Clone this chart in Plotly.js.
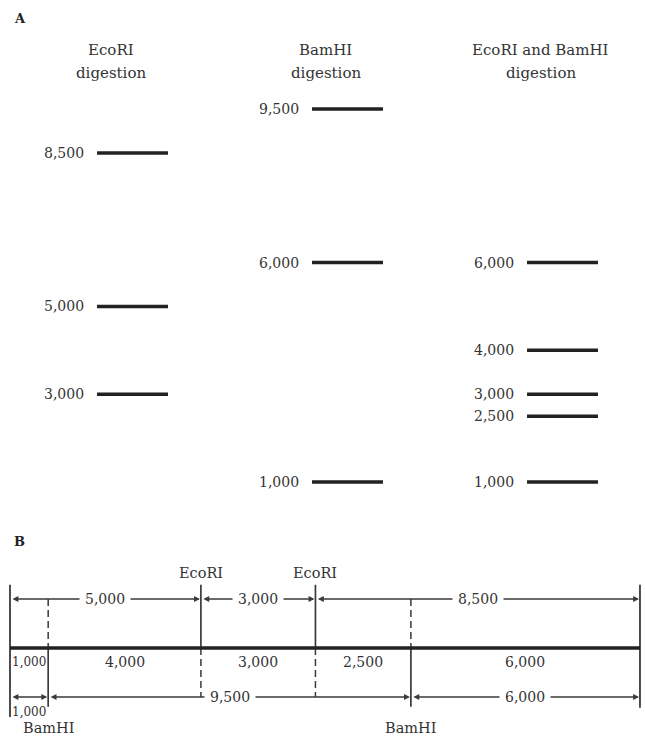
<!DOCTYPE html>
<html>
<head>
<meta charset="utf-8">
<script src="https://cdn.plot.ly/plotly-3.0.1.min.js"></script>
<style>html,body{margin:0;padding:0;background:#fff;}#chart{width:645px;height:737px;}</style>
</head>
<body>
<div id="chart"></div>
<script>
// ---- Data ----
const laneNames = ['EcoRI', 'BamHI', 'EcoRI and BamHI'];
const laneSub = ['digestion', 'digestion', 'digestion'];
const ecoriBands = [8500, 5000, 3000];
const bamhiBands = [9500, 6000, 1000];
const doubleBands = [6000, 4000, 3000, 2500, 1000];
const ecoriFragments = [5000, 3000, 8500];   // order along map
const bamhiFragments = [1000, 9500, 6000];   // order along map
const doubleFragments = [1000, 4000, 3000, 2500, 6000];
const ecoriSiteLabel = 'EcoRI';
const bamhiSiteLabel = 'BamHI';

// ---- Helpers ----
const fmt = v => v.toLocaleString('en-US');
const cum = arr => { const out = [0]; arr.forEach(a => out.push(out[out.length - 1] + a)); return out; };
const FONT = 'DejaVu Serif, Liberation Serif, serif';
const TXT = '#333';
const traces = [];
const ann = [];

// ---- Panel A: gel bands ----
const laneBands = [ecoriBands, bamhiBands, doubleBands];
const hw = 0.165;
laneBands.forEach((bands, i) => {
  const xs = [], ys = [];
  bands.forEach(v => { xs.push(i - hw, i + hw, null); ys.push(v, v, null); });
  traces.push({x: xs, y: ys, xaxis: 'x', yaxis: 'y', mode: 'lines',
    line: {color: '#222', width: 3.5}, hoverinfo: 'skip', showlegend: false});
  bands.forEach(v => ann.push({x: i - hw, y: v, xref: 'x', yref: 'y', text: fmt(v),
    showarrow: false, xanchor: 'right', yanchor: 'middle', xshift: -11,
    font: {family: FONT, size: 14, color: TXT}}));
  ann.push({x: i, y: 1 - 50 / 737, xref: 'x', yref: 'paper', text: laneNames[i], showarrow: false,
    xanchor: 'center', yanchor: 'middle', xshift: -22, font: {family: FONT, size: 15, color: TXT}});
  ann.push({x: i, y: 1 - 73 / 737, xref: 'x', yref: 'paper', text: laneSub[i], showarrow: false,
    xanchor: 'center', yanchor: 'middle', xshift: -22, font: {family: FONT, size: 15, color: TXT}});
});
ann.push({x: 12 / 645, y: 1 - 18 / 737, xref: 'paper', yref: 'paper', text: '<b>A</b>', showarrow: false,
  xanchor: 'left', yanchor: 'middle', font: {family: FONT, size: 13, color: '#222'}});
ann.push({x: 12 / 645, y: 1 - 541 / 737, xref: 'paper', yref: 'paper', text: '<b>B</b>', showarrow: false,
  xanchor: 'left', yanchor: 'middle', font: {family: FONT, size: 13, color: '#222'}});

// ---- Panel B: restriction map ----
const ecoB = cum(ecoriFragments);    // 0, 5000, 8000, 16500
const bamB = cum(bamhiFragments);    // 0, 1000, 10500, 16500
const dblB = cum(doubleFragments);
const total = ecoB[ecoB.length - 1];
const ecoSites = ecoB.slice(1, -1);
const bamSites = bamB.slice(1, -1);

const Y_TOP = 1, Y_BOT = -1, Y_VTOP = 1.29;
const DASH = '7px,4px';
function seg(x0, y0, x1, y1, dash, width, color) {
  traces.push({x: [x0, x1], y: [y0, y1], xaxis: 'x2', yaxis: 'y2', mode: 'lines',
    line: {color: color || '#3a3a3a', width: width || 1.6, dash: dash || 'solid'},
    hoverinfo: 'skip', showlegend: false});
}
// ends
seg(0, Y_VTOP, 0, -1.41, 'solid', 1.8);
seg(total, Y_VTOP, total, -1.22, 'solid', 1.8);
// EcoRI sites
ecoSites.forEach(s => {
  seg(s, Y_VTOP, s, 0, 'solid', 1.7);
  seg(s, 0, s, Y_BOT, DASH, 1.5);
  ann.push({x: s, y: 1.53, xref: 'x2', yref: 'y2', text: ecoriSiteLabel, showarrow: false,
    xanchor: 'center', yanchor: 'middle', font: {family: FONT, size: 14.5, color: TXT}});
});
// BamHI sites
bamSites.forEach(s => {
  seg(s, Y_TOP, s, 0, DASH, 1.5);
  seg(s, 0, s, -1.2, 'solid', 1.7);
  ann.push({x: s, y: -1.63, xref: 'x2', yref: 'y2', text: bamhiSiteLabel, showarrow: false,
    xanchor: 'center', yanchor: 'middle', font: {family: FONT, size: 14.5, color: TXT}});
});
// main DNA line
seg(0, 0, total, 0, 'solid', 3.5, '#222');

// dimension arrows
function dim(x0, x1, y) {
  ann.push({x: x1, y: y, ax: x0, ay: y, xref: 'x2', yref: 'y2', axref: 'x2', ayref: 'y2',
    text: '', showarrow: true, arrowside: 'end+start', arrowhead: 2, arrowsize: 0.9,
    arrowwidth: 1.3, arrowcolor: '#3a3a3a', standoff: 1, startstandoff: 1});
}
for (let k = 0; k < ecoriFragments.length; k++) dim(ecoB[k], ecoB[k + 1], Y_TOP);
for (let k = 0; k < bamhiFragments.length; k++) dim(bamB[k], bamB[k + 1], Y_BOT);

// dimension labels (white background breaks line)
for (let k = 0; k < ecoriFragments.length; k++) {
  ann.push({x: (ecoB[k] + ecoB[k + 1]) / 2, y: Y_TOP, xref: 'x2', yref: 'y2', text: fmt(ecoriFragments[k]),
    showarrow: false, bgcolor: '#fff', borderpad: 5, font: {family: FONT, size: 14, color: TXT}});
}
for (let k = 0; k < bamhiFragments.length; k++) {
  const small = (bamB[k + 1] - bamB[k]) < 2000;
  ann.push({x: (bamB[k] + bamB[k + 1]) / 2, y: small ? -1.31 : Y_BOT, xref: 'x2', yref: 'y2',
    text: fmt(bamhiFragments[k]), showarrow: false, bgcolor: small ? 'rgba(0,0,0,0)' : '#fff',
    borderpad: small ? 0 : 5, font: {family: FONT, size: small ? 12 : 14, color: TXT}});
}
// double digest fragment labels under the line
for (let k = 0; k < doubleFragments.length; k++) {
  const small = (dblB[k + 1] - dblB[k]) < 2000;
  ann.push({x: (dblB[k] + dblB[k + 1]) / 2, y: -0.28, xref: 'x2', yref: 'y2', text: fmt(doubleFragments[k]),
    showarrow: false, font: {family: FONT, size: small ? 12 : 14, color: TXT}});
}

// ---- Layout ----
const splitFrac = 525 / 737;
const layout = {
  width: 645, height: 737,
  margin: {l: 0, r: 0, t: 0, b: 0},
  paper_bgcolor: '#fff', plot_bgcolor: 'rgba(0,0,0,0)',
  showlegend: false,
  xaxis: {domain: [0, 1], range: [-132.5 / 215, (645 - 132.5) / 215], visible: false, fixedrange: true},
  yaxis: {domain: [1 - splitFrac, 1], anchor: 'x', range: [9500 - (525 - 109) / 0.04388, 9500 + 109 / 0.04388], visible: false, fixedrange: true},
  xaxis2: {domain: [0, 1], anchor: 'y2', range: [-10 / 0.03818, 635 / 0.03818], visible: false, fixedrange: true},
  yaxis2: {domain: [0, 1 - splitFrac], anchor: 'x2', range: [-(737 - 648) / 49, (648 - 525) / 49], visible: false, fixedrange: true},
  annotations: ann
};
Plotly.newPlot('chart', traces, layout, {displayModeBar: false, staticPlot: true});
</script>
</body>
</html>
